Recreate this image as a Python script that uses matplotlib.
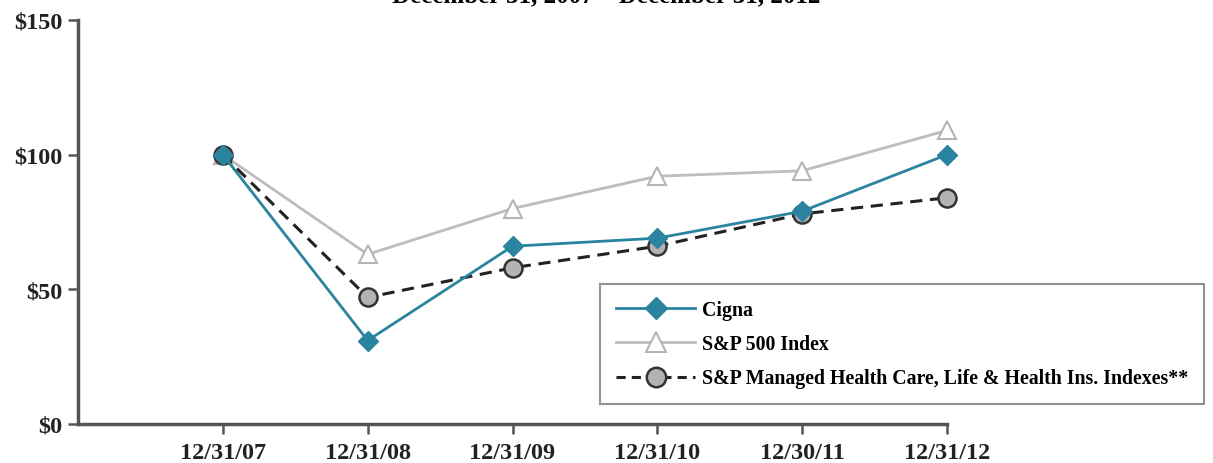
import numpy as np
import matplotlib.pyplot as plt
from matplotlib.lines import Line2D

dates = ["12/31/07", "12/31/08", "12/31/09", "12/31/10", "12/30/11", "12/31/12"]
cigna = [100, 31, 66, 69, 79, 100]
sp500 = [100, 63, 80, 92, 94, 109]
health = [100, 47, 58, 66, 78, 84]
yticks = [0, 50, 100, 150]
ylabels = ["$0", "$50", "$100", "$150"]

plt.rcParams['font.family'] = ['Liberation Serif', 'DejaVu Serif']

fig = plt.figure(figsize=(12.13, 4.64), dpi=100)
ax = fig.add_axes([78 / 1213, 1 - 425 / 464, (947 - 78) / 1213, (425 - 21) / 464])

x = np.arange(len(dates))
teal = "#2a84a0"

l2, = ax.plot(x, sp500, color="#bdbdbd", lw=2, marker="^", ms=13,
              mfc="white", mec="#b5b5b5", mew=1.5, zorder=2, clip_on=False)
l3, = ax.plot(x, health, color="#222222", lw=2.2, ls=(0, (4, 2.5)), marker="o", ms=13,
              mfc="#b3b3b3", mec="#333333", mew=1.8, zorder=3, clip_on=False)
l1, = ax.plot(x, cigna, color=teal, lw=2, marker="D", ms=10,
              mfc=teal, mec=teal, zorder=4, clip_on=False)

ax.set_xlim(-1, 5)
ax.set_ylim(0, 150)
ax.set_xticks(x)
ax.set_xticklabels(dates)
ax.set_yticks(yticks)
ax.set_yticklabels(ylabels)

for s in ["top", "right"]:
    ax.spines[s].set_visible(False)
for s in ["left", "bottom"]:
    ax.spines[s].set_color("#555555")
    ax.spines[s].set_linewidth(2.5)
ax.tick_params(axis="both", colors="#555555", width=1.8, length=7, labelcolor="#222222",
               labelsize=17.5)
ax.tick_params(axis="x", pad=6)
ax.tick_params(axis="y", pad=4)
for lab in ax.get_xticklabels() + ax.get_yticklabels():
    lab.set_fontweight("bold")

h1 = Line2D([], [], color=teal, lw=2, marker="D", ms=11, mfc=teal, mec=teal)
h2 = Line2D([], [], color="#bdbdbd", lw=2, marker="^", ms=14, mfc="white", mec="#b5b5b5", mew=1.5)
h3 = Line2D([], [], color="#222222", lw=2.2, ls=(0, (3, 2)), marker="o", ms=14,
            mfc="#b3b3b3", mec="#333333", mew=1.8)
leg = fig.legend([h1, h2, h3],
                 ["Cigna", "S&P 500 Index", "S&P Managed Health Care, Life & Health Ins. Indexes**"],
                 loc="upper left", bbox_to_anchor=(600 / 1213, 1 - 285 / 464),
                 frameon=True, fancybox=False, shadow=False, fontsize=14.3,
                 handlelength=4.0, labelspacing=0.72, borderpad=0.8, handletextpad=0.35,
                 borderaxespad=0)
leg.get_frame().set_edgecolor("#777777")
leg.get_frame().set_linewidth(1.5)
for t in leg.get_texts():
    t.set_fontweight("bold")

fig.text(0.5, 1.008, "December 31, 2007 \u2013 December 31, 2012", ha="center", va="center",
         fontsize=18, fontweight="bold")

fig.savefig("out.png", dpi=100)
